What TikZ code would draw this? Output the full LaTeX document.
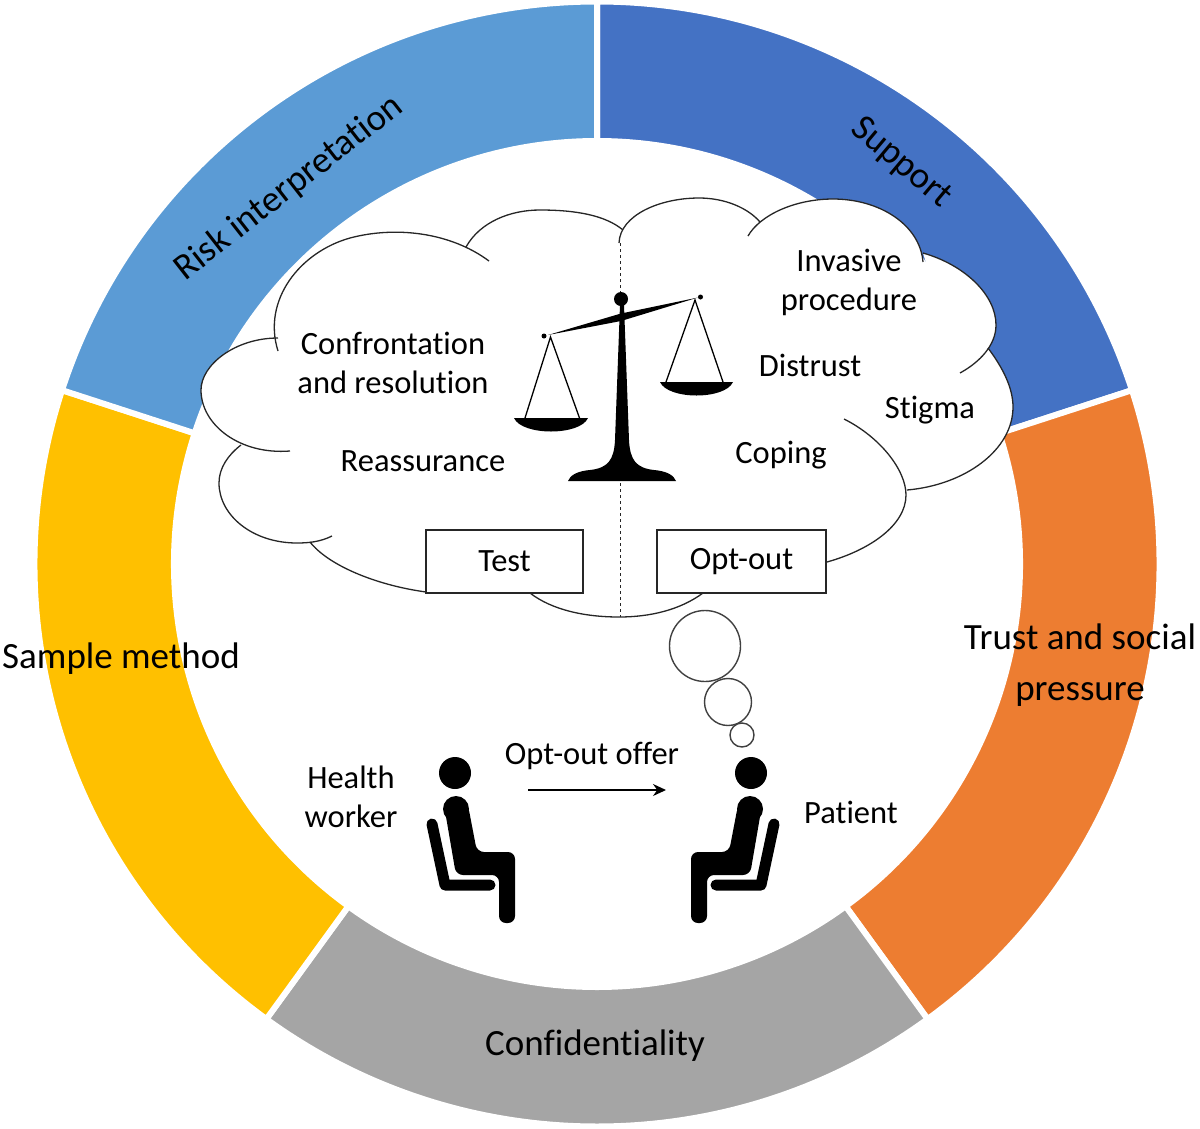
\documentclass[tikz,border=0pt]{standalone}
\usepackage{fontspec}
\setmainfont[Ligatures=NoCommon]{Carlito}
\usetikzlibrary{calc,arrows.meta}

\definecolor{ringblue}{HTML}{4472C4}
\definecolor{ringlight}{HTML}{5B9BD5}
\definecolor{ringorange}{HTML}{ED7D31}
\definecolor{ringgrey}{HTML}{A5A5A5}
\definecolor{ringyellow}{HTML}{FFC000}

\tikzset{
    ringlabel/.style={font=\fontsize{37}{51}\selectfont, align=center, inner sep=0},
    innerlabel/.style={font=\fontsize{32.5}{39}\selectfont, align=center, inner sep=0},
    cloudline/.style={draw=black!85, line width=1.3pt},
    choicebox/.style={draw=black!85, fill=white, line width=1.3pt, font=\fontsize{32.5}{39}\selectfont, inner sep=0},
    thought/.style={circle, draw=black!75, line width=1.4pt, inner sep=0},
}

\newcommand{\ringsector}[3]{\fill[#3, draw=white, line width=6pt] ($(ctr)+(#1:562.5)$) arc (#1:#2:562.5) -- ($(ctr)+(#2:423)$) arc (#2:#1:423) -- cycle;}
\newcommand{\cloudlobes}[1]{
    \path[#1] (489,261) .. controls (450,232) and (395,226) .. (350,238) .. controls (300,252) and (262,300) .. (278,351);
    \path[#1] (466,247) .. controls (480,222) and (510,210) .. (540,210) .. controls (575,210) and (605,215) .. (623,230);
    \path[#1] (619,243) .. controls (620,215) and (660,198) .. (699,198) .. controls (725,198) and (748,208) .. (760,222);
    \path[#1] (748,236) .. controls (760,215) and (795,199) .. (833,199) .. controls (880,199) and (920,225) .. (923,262);
    \path[#1] (923,253) .. controls (965,265) and (996,295) .. (996,325) .. controls (996,345) and (980,362) .. (960,373);
    \path[#1] (988,348) .. controls (1003,368) and (1013,388) .. (1013,407) .. controls (1013,450) and (965,485) .. (907,490);
    \path[#1] (844,419) .. controls (880,437) and (906,470) .. (906,495) .. controls (906,525) and (870,550) .. (827,562);
    \path[#1] (703,593) .. controls (680,610) and (650,617) .. (619,617) .. controls (585,617) and (552,610) .. (530,593);
    \path[#1] (426,592) .. controls (375,585) and (328,565) .. (310,542);
    \path[#1] (332,536) .. controls (320,542) and (308,543) .. (297,543) .. controls (252,543) and (219,515) .. (219,483) .. controls (219,468) and (228,455) .. (241,445);
    \path[#1] (290,451) .. controls (240,455) and (201,425) .. (201,390) .. controls (201,365) and (235,338) .. (278,338);
}
\newcommand{\seatedperson}{
    \fill (455,773) circle (16);
    \fill (456,809) circle (13);
    \fill[rounded corners=7] (444,805) -- (468,805) -- (477,852) -- (515,852) -- (515,923) -- (499,923) -- (499,875) -- (456,875) -- cycle;
    \draw[line width=11pt, line cap=round, line join=round] (432,824) -- (445,885) -- (490,885);
}

\begin{document}
\begin{tikzpicture}[x=1pt,y=-1pt]
    \useasboundingbox (0,0) rectangle (1200,1128);
    \coordinate (ctr) at (597,564);

    \ringsector{-90}{-18}{ringblue}
    \ringsector{-18}{54}{ringorange}
    \ringsector{54}{126}{ringgrey}
    \ringsector{126}{198}{ringyellow}
    \ringsector{198}{270}{ringlight}

    \cloudlobes{fill=white}
    \fill[white] (290,300) -- (466,247) -- (623,235) -- (760,225) -- (921,255) -- (988,350) -- (905,490) -- (827,562) -- (703,593) -- (426,592) -- (310,542) -- (241,445) -- (244,343) -- cycle;
    \cloudlobes{cloudline}

    \draw[dashed, black!85, line width=0.9pt] (620,243) -- (620,617);

    % scale
    \fill (621,299) circle (7);
    \fill (548,335) -- (621,313.5) -- (698,297.5) -- (621,321) -- cycle;
    \fill (544,336) circle (2.5);
    \fill (700.5,297) circle (2.5);
    \fill (620,305) -- (615,440) .. controls (614,460) and (608,468) .. (590,470) .. controls (578,471) and (570,475) .. (568,481) -- (676,481) .. controls (674,475) and (666,471) .. (654,470) .. controls (636,468) and (630,460) .. (629,440) -- (624,305) -- cycle;
    \draw[line width=1.3pt] (525,418) -- (550.5,337) -- (579.5,418);
    \draw[line width=1.3pt] (666,382) -- (695,300) -- (723,382);
    \fill (514,418) .. controls (522,436) and (580,436) .. (588,418) -- cycle;
    \fill (660,382) .. controls (668,400) and (725,400) .. (733,382) -- cycle;

    \node[choicebox, minimum width=157, minimum height=63] (test) at (504.5,561.5) {Test};
    \node[choicebox, minimum width=169, minimum height=63] (optout) at (741.5,561.5) {Opt-out};

    \node[thought, minimum size=71] (bubbleA) at (705,646) {};
    \node[thought, minimum size=47] (bubbleB) at (728,702) {};
    \node[thought, minimum size=24] (bubbleC) at (742,735) {};

    \seatedperson
    \begin{scope}[xshift=1206pt, xscale=-1]
        \seatedperson
    \end{scope}
    \coordinate (offerstart) at (528,790);
    \coordinate (offerend) at (666,790);
    \draw[-{Stealth[length=13pt,width=12pt]}, line width=1.3pt] (offerstart) -- (offerend);

    \node[ringlabel, rotate=38] (risk) at (289,188) {Risk interpretation};
    \node[ringlabel, rotate=-40] (support) at (901,163) {Support};
    \node[ringlabel] (sample) at (121,659) {Sample method};
    \node[ringlabel] (trust) at (1080,665) {Trust and social\\pressure};
    \node[ringlabel] (confid) at (595,1046) {Confidentiality};

    \node[innerlabel] (confront) at (393,363) {Confrontation\\and resolution};
    \node[innerlabel] (reassure) at (423,461) {Reassurance};
    \node[innerlabel] (invasive) at (849,282) {Invasive\\procedure};
    \node[innerlabel] (distrust) at (810,365) {Distrust};
    \node[innerlabel] (stigma) at (930,410) {Stigma};
    \node[innerlabel] (coping) at (781,455) {Coping};
    \node[innerlabel] (offer) at (592,756) {Opt-out offer};
    \node[innerlabel] (worker) at (351,797) {Health\\worker};
    \node[innerlabel] (patient) at (851,812) {Patient};
\end{tikzpicture}
\end{document}
